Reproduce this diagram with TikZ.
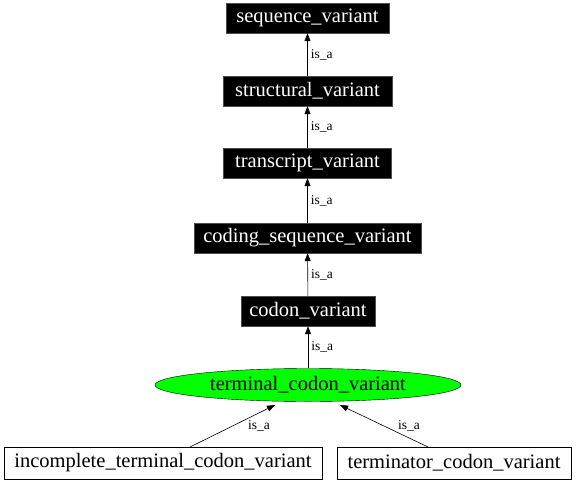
\documentclass[tikz,border=0pt]{standalone}
\usepackage{fontspec}
\setmainfont{Liberation Serif}
\usetikzlibrary{arrows.meta,shapes.geometric}
\begin{document}
\begin{tikzpicture}[x=1pt,y=1pt,
  blackbox/.style={rectangle,fill=black,draw=black!70,text=white,font=\fontsize{20.5}{23}\selectfont,minimum height=30pt,inner sep=0pt},
  whitebox/.style={rectangle,fill=white,draw=black,text=black,font=\fontsize{20.5}{23}\selectfont,minimum height=32pt,inner sep=0pt},
  greenell/.style={ellipse,fill=green,draw=black,font=\fontsize{20.5}{23}\selectfont,minimum width=306pt,minimum height=33pt,inner sep=0pt},
  isa/.style={-{Triangle[length=8pt,width=6pt]},draw=black,line width=0.6pt},
  lbl/.style={font=\fontsize{13.5}{15}\selectfont,inner sep=0pt,anchor=west}
]
\useasboundingbox (0,0) rectangle (576,-482);
\node[blackbox,minimum width=163pt] (sv) at (307.5,-18) {sequence\_variant};
\node[blackbox,minimum width=169pt] (st) at (307.5,-91) {structural\_variant};
\node[blackbox,minimum width=168pt] (tv) at (307.5,-163) {transcript\_variant};
\node[blackbox,minimum width=227pt] (cs) at (307.5,-238) {coding\_sequence\_variant};
\node[blackbox,minimum width=134pt] (cv) at (308,-311) {codon\_variant};
\node[greenell] (tc) at (308,-385) {terminal\_codon\_variant};
\node[whitebox,minimum width=318pt] (ic) at (163,-463) {incomplete\_terminal\_codon\_variant};
\node[whitebox,minimum width=234pt] (tm) at (454,-463) {terminator\_codon\_variant};
\coordinate (icA) at (190,-447);
\coordinate (tmA) at (428,-447);
\coordinate (tcL) at (275,-405);
\coordinate (tcR) at (340,-405);
\draw[isa] (st) -- node[lbl,xshift=3pt] {is\_a} (sv);
\draw[isa] (tv) -- node[lbl,xshift=3pt] {is\_a} (st);
\draw[isa] (cs) -- node[lbl,xshift=3pt] {is\_a} (tv);
\draw[isa] (cv) -- node[lbl,xshift=3pt] {is\_a} (cs);
\draw[isa] (tc) -- node[lbl,xshift=3pt] {is\_a} (cv);
\draw[isa] (icA) -- (tcL);
\draw[isa] (tmA) -- (tcR);
\node[lbl,anchor=center] (l1) at (259,-426) {is\_a};
\node[lbl,anchor=center] (l2) at (409,-426) {is\_a};
\end{tikzpicture}
\end{document}
